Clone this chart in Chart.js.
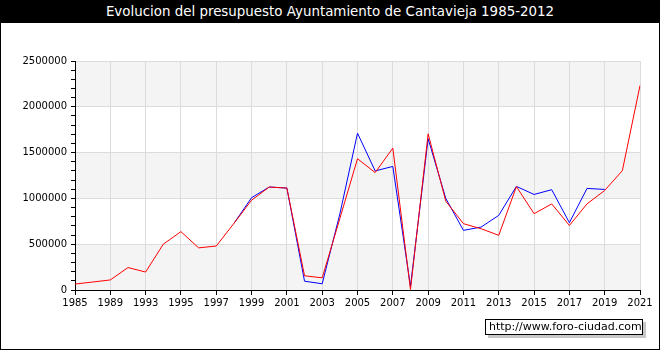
<!DOCTYPE html>
<html>
<head>
<meta charset="utf-8">
<script src="https://cdn.jsdelivr.net/npm/chart.js@4"></script>
<style>
  body { margin: 0; background: #fff; }
  #wrap { position: relative; width: 660px; height: 350px; overflow: hidden; font-family: 'DejaVu Sans', sans-serif; }
  #wrap canvas { position: absolute; left: 0; top: 0; }
  #frame { position: absolute; left: 0; top: 0; width: 660px; height: 350px; box-sizing: border-box; border: 1px solid #000; pointer-events: none; }
  #title { position: absolute; left: 0; top: 0; width: 660px; height: 23px; background: #000; color: #fff;
           font-size: 13.4px; line-height: 24px; text-align: center; }
  #credit { position: absolute; left: 485px; top: 319px; width: 158px; height: 16px; box-sizing: border-box;
            border: 1px solid #000; background: #fff; box-shadow: 3px 3px 0 #c8c8c8;
            font-size: 11px; line-height: 14px; padding-left: 3px; color: #000; }
</style>
</head>
<body>
<div id="wrap">
  <canvas id="budgetChart" width="660" height="350"></canvas>
  <div id="title">Evolucion del presupuesto Ayuntamiento de Cantavieja 1985-2012</div>
  <div id="credit">http://www.foro-ciudad.com</div>
  <div id="frame"></div>
</div>
<script>
// ===== DATA =====
const years = ['1985','1988','1989','1992','1993','1994','1995','1996','1997','1998','1999',
  '2000','2001','2002','2003','2004','2005','2006','2007','2008','2009','2010','2011',
  '2012','2013','2014','2015','2016','2017','2018','2019','2020','2021'];

// red line
const ingresos = [65000, 87000, 110000, 245000, 196000, 500000, 637000, 460000, 480000, 727000,
  980000, 1124000, 1113000, 155000, 133000, 780000, 1433000, 1282000, 1549000, 5000,
  1705000, 970000, 724000, 669000, 597000, 1129000, 833000, 940000, 705000, 940000,
  1087000, 1303000, 2232000];

// blue line
const gastos = [null, null, null, null, null, null, null, null, null, 727000,
  1008000, 1124000, 1113000, 96000, 68000, 830000, 1712000, 1300000, 1349000, 40000,
  1651000, 1000000, 651000, 687000, 815000, 1131000, 1043000, 1095000, 735000, 1109000,
  1098000, null, null];

const yMax = 2500000;
const yLabelStep = 500000;
const yMinorStep = 100000;

// ===== BACKGROUND BANDS =====
const bandPlugin = {
  id: 'bands',
  beforeDraw(chart) {
    const { ctx, chartArea, scales: { y } } = chart;
    ctx.save();
    ctx.fillStyle = '#f4f4f4';
    for (let v = 0; v < yMax; v += 2 * yLabelStep) {
      const top = y.getPixelForValue(v + yLabelStep);
      const bottom = y.getPixelForValue(v);
      ctx.fillRect(chartArea.left, top, chartArea.right - chartArea.left, bottom - top);
    }
    ctx.restore();
  }
};

const FONT = { family: "'DejaVu Sans', sans-serif", size: 10 };

new Chart(document.getElementById('budgetChart'), {
  type: 'line',
  data: {
    labels: years,
    datasets: [
      { data: ingresos, borderColor: '#ff0000', borderWidth: 1, pointRadius: 0, tension: 0, fill: false },
      { data: gastos, borderColor: '#0000ff', borderWidth: 1, pointRadius: 0, tension: 0, fill: false, spanGaps: false }
    ]
  },
  options: {
    responsive: false,
    animation: false,
    layout: { padding: { top: 61, right: 20, bottom: 0, left: 0 } },
    plugins: { legend: { display: false }, tooltip: { enabled: false } },
    scales: {
      x: {
        offset: false,
        afterFit: s => { s.height = 60; },
        grid: { color: '#dcdcdc', tickColor: '#000', tickLength: 5 },
        border: { color: '#000' },
        ticks: {
          autoSkip: false, maxRotation: 0, color: '#000', font: FONT, padding: 2,
          callback: (v, i) => (i % 2 ? null : years[i])
        }
      },
      y: {
        min: 0, max: yMax,
        afterFit: s => { s.width = 75; },
        grid: {
          color: c => (c.tick && c.tick.value % yLabelStep === 0 ? '#dcdcdc' : 'rgba(0,0,0,0)'),
          tickColor: '#000', tickLength: 4
        },
        border: { color: '#000' },
        ticks: {
          stepSize: yMinorStep, maxTicksLimit: 30, autoSkip: false, color: '#000', font: FONT, padding: 4,
          callback: v => (v % yLabelStep === 0 ? String(v) : '')
        }
      }
    }
  },
  plugins: [bandPlugin]
});
</script>
</body>
</html>
